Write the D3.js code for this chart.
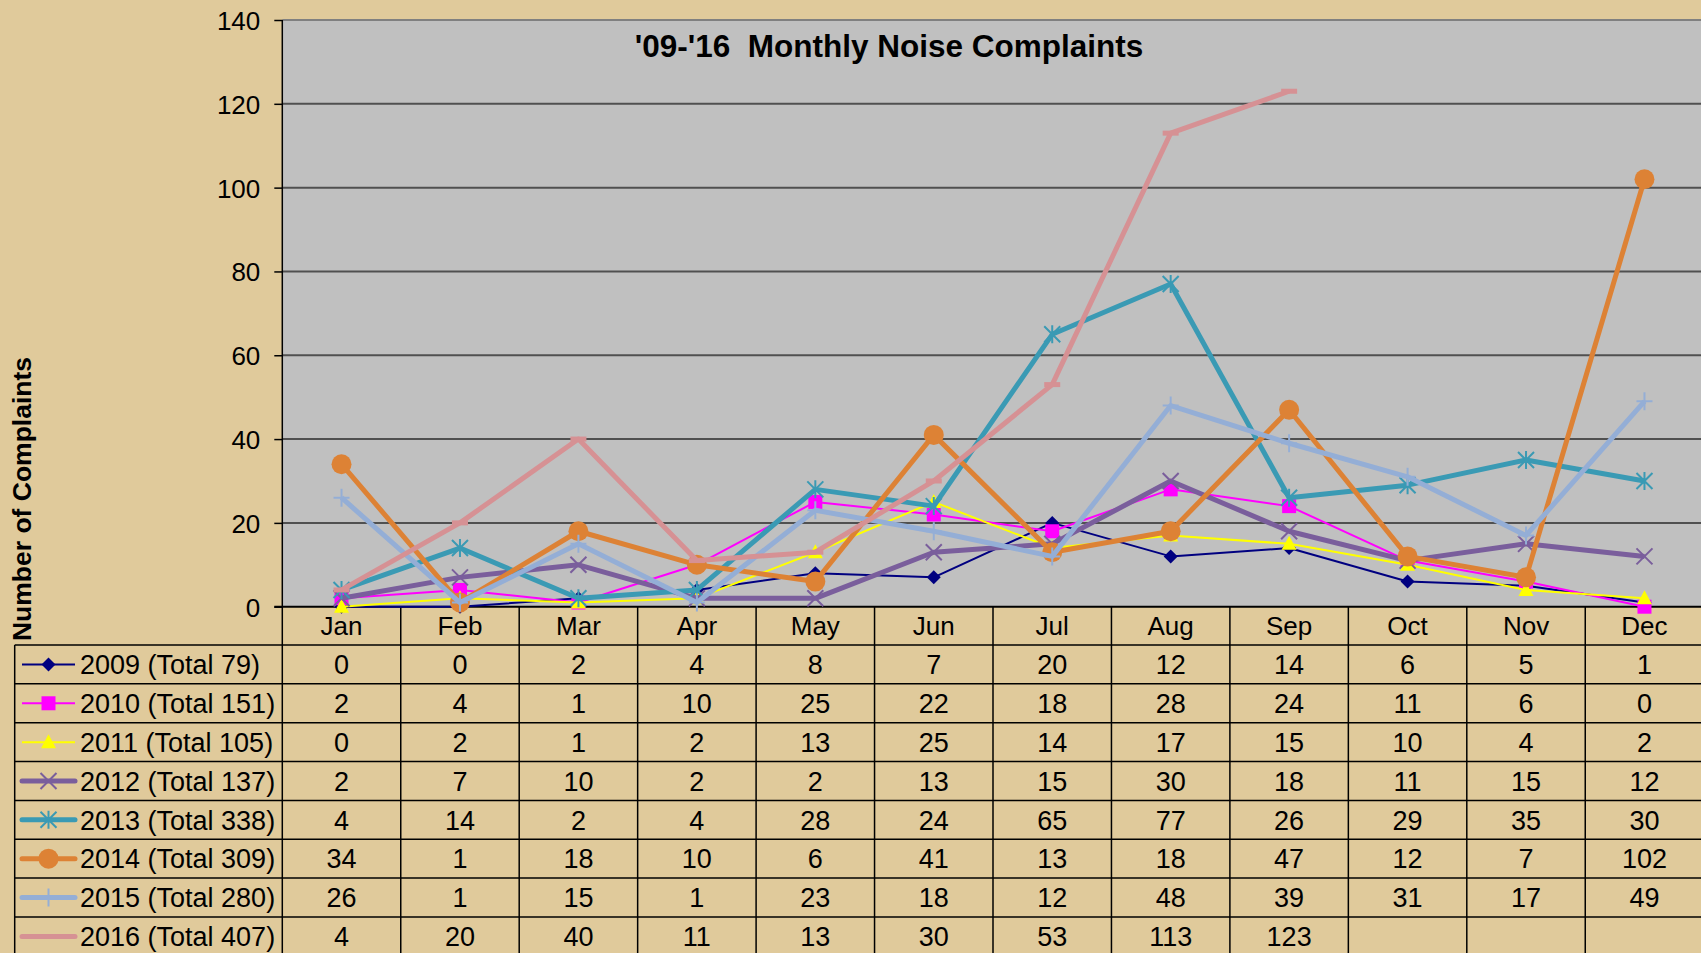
<!DOCTYPE html>
<html><head><meta charset="utf-8">
<script src="https://cdn.jsdelivr.net/npm/d3@7"></script>
<style>
html,body{margin:0;padding:0;background:#E0CA9B;overflow:hidden}
svg{display:block}
text{font-family:"Liberation Sans",Arial,sans-serif;fill:#000}
</style></head><body>
<svg id="c" width="1701" height="953"></svg>
<script>
const months = ["Jan","Feb","Mar","Apr","May","Jun","Jul","Aug","Sep","Oct","Nov","Dec"];
const yTicks = [0,20,40,60,80,100,120,140];
const seriesNames = ["2009 (Total 79)","2010 (Total 151)","2011 (Total 105)","2012 (Total 137)","2013 (Total 338)","2014 (Total 309)","2015 (Total 280)","2016 (Total 407)"];
const v2009 = [0,0,2,4,8,7,20,12,14,6,5,1];
const v2010 = [2,4,1,10,25,22,18,28,24,11,6,0];
const v2011 = [0,2,1,2,13,25,14,17,15,10,4,2];
const v2012 = [2,7,10,2,2,13,15,30,18,11,15,12];
const v2013 = [4,14,2,4,28,24,65,77,26,29,35,30];
const v2014 = [34,1,18,10,6,41,13,18,47,12,7,102];
const v2015 = [26,1,15,1,23,18,12,48,39,31,17,49];
const v2016 = [4,20,40,11,13,30,53,113,123,null,null,null];
const seriesValues = [v2009,v2010,v2011,v2012,v2013,v2014,v2015,v2016];
const colors = ["#000080","#FF00FF","#FFFF00","#7A5E9C","#3A9AB4","#DD8235","#94AED6","#D69194"];
const widths = [2,2,2,5,5,5,5,5];
const markers = ["diamond","square","triangle","x","star","circle","plus","dash"];
const titleText = "'09-'16  Monthly Noise Complaints";
const yLabel = "Number of Complaints";

const svg = d3.select("#c");
const L = 282.3, R = 1703.7, T = 20, B = 606.7;
const x = d3.scaleBand().domain(months).range([L, R]);
const y = d3.scaleLinear().domain([0,140]).range([B, T]);
const rowTop = 645, rowH = 38.85;
const FS = "26px", TFS = "27px";

// plot background
svg.append("rect").attr("x",L).attr("y",T).attr("width",R-L).attr("height",B-T).attr("fill","#C0C0C0");
svg.append("line").attr("x1",L).attr("x2",R).attr("y1",T).attr("y2",T).attr("stroke","#808080").attr("stroke-width",2);

// gridlines
svg.append("g").selectAll("line").data(yTicks.filter(d=>d>0&&d<140)).join("line")
  .attr("x1",L).attr("x2",R).attr("y1",d=>y(d)).attr("y2",d=>y(d))
  .attr("stroke","#505050").attr("stroke-width",2);

// y axis
const yAxis = d3.axisLeft(y).tickValues(yTicks).tickSize(8).tickPadding(14);
const ga = svg.append("g").attr("transform",`translate(${L},0)`).call(yAxis);
ga.select(".domain").remove();
ga.selectAll(".tick line").attr("stroke","#000").attr("stroke-width",1.5);
ga.selectAll(".tick text").style("font-size",FS).attr("fill","#000").attr("dy","0.36em")
  .style("font-family",'"Liberation Sans",Arial,sans-serif');
svg.append("line").attr("x1",L).attr("x2",L).attr("y1",T).attr("y2",953).attr("stroke","#000").attr("stroke-width",1.5);
svg.append("line").attr("x1",L-8).attr("x2",R).attr("y1",B).attr("y2",B).attr("stroke","#000").attr("stroke-width",2);

// title
svg.append("text").attr("x",889).attr("y",57).attr("text-anchor","middle")
  .style("white-space","pre").attr("xml:space","preserve")
  .style("font-weight","bold").style("font-size","31.5px").text(titleText);

// y label
svg.append("text").attr("transform","translate(31,499) rotate(-90)").attr("text-anchor","middle")
  .style("font-weight","bold").style("font-size","26.5px").text(yLabel);

// table grid
const tbl = svg.append("g");
months.forEach((m,i)=>{ if(i>0) tbl.append("line").attr("x1",x(m)).attr("x2",x(m)).attr("y1",B).attr("y2",953).attr("stroke","#000").attr("stroke-width",1.5); });
tbl.append("line").attr("x1",14.7).attr("x2",14.7).attr("y1",rowTop).attr("y2",953).attr("stroke","#000").attr("stroke-width",1.5);
for(let r=0;r<=8;r++){
  const yy = rowTop + r*rowH;
  tbl.append("line").attr("x1",14.7).attr("x2",1701).attr("y1",yy).attr("y2",yy).attr("stroke","#000").attr("stroke-width",1.5);
}
// month labels
svg.append("g").selectAll("text").data(months).join("text")
  .attr("x",d=>x(d)+x.bandwidth()/2).attr("y",635).attr("text-anchor","middle")
  .style("font-size",FS).text(d=>d);

// marker drawing
function drawMarker(g, type, cx, cy, color){
  switch(type){
    case "diamond": g.append("path").attr("d",`M${cx},${cy-7}L${cx+7},${cy}L${cx},${cy+7}L${cx-7},${cy}Z`).attr("fill",color); break;
    case "square": g.append("rect").attr("x",cx-7).attr("y",cy-7).attr("width",14).attr("height",14).attr("fill",color); break;
    case "triangle": g.append("path").attr("d",`M${cx},${cy-8}L${cx+7.5},${cy+6}L${cx-7.5},${cy+6}Z`).attr("fill",color); break;
    case "x": g.append("path").attr("d",`M${cx-8},${cy-8}L${cx+8},${cy+8}M${cx+8},${cy-8}L${cx-8},${cy+8}`).attr("stroke",color).attr("stroke-width",2); break;
    case "star": g.append("path").attr("d",`M${cx-8},${cy-8}L${cx+8},${cy+8}M${cx+8},${cy-8}L${cx-8},${cy+8}M${cx},${cy-9}L${cx},${cy+9}`).attr("stroke",color).attr("stroke-width",2); break;
    case "circle": g.append("circle").attr("cx",cx).attr("cy",cy).attr("r",10).attr("fill",color); break;
    case "plus": g.append("path").attr("d",`M${cx-8},${cy}L${cx+8},${cy}M${cx},${cy-9}L${cx},${cy+9}`).attr("stroke",color).attr("stroke-width",2); break;
    case "dash": g.append("rect").attr("x",cx-8).attr("y",cy-2.5).attr("width",16).attr("height",5).attr("fill",color); break;
  }
}

// series lines
const line = d3.line().defined(d=>d.v!=null).x(d=>x(d.m)+x.bandwidth()/2).y(d=>y(d.v));
seriesValues.forEach((vals,si)=>{
  const data = vals.map((v,i)=>({m:months[i],v}));
  const g = svg.append("g");
  g.append("path").datum(data).attr("d",line).attr("fill","none")
    .attr("stroke",colors[si]).attr("stroke-width",widths[si]).attr("stroke-linejoin","round");
  data.filter(d=>d.v!=null).forEach(d=>drawMarker(g, markers[si], x(d.m)+x.bandwidth()/2, y(d.v), colors[si]));
});

// table rows
seriesNames.forEach((name,si)=>{
  const cy = rowTop + si*rowH + rowH/2;
  const g = svg.append("g");
  g.append("line").attr("x1",22).attr("x2",75).attr("y1",cy).attr("y2",cy)
    .attr("stroke",colors[si]).attr("stroke-width",widths[si]).attr("stroke-linecap",widths[si]>2?"round":"butt");
  if(markers[si]!=="dash") drawMarker(g, markers[si], 48.5, cy, colors[si]);
  g.append("text").attr("x",80).attr("y",cy).attr("dy","0.36em").style("font-size",TFS).text(name);
  seriesValues[si].forEach((v,i)=>{
    if(v==null) return;
    g.append("text").attr("x",x(months[i])+x.bandwidth()/2).attr("y",cy).attr("dy","0.36em")
      .attr("text-anchor","middle").style("font-size",TFS).text(v);
  });
});
</script></body></html>
